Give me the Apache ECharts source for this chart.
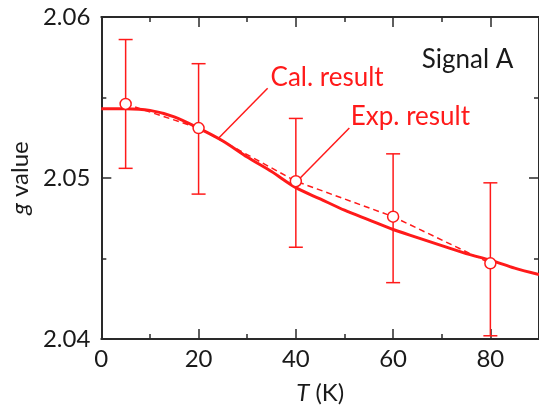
<!DOCTYPE html>
<html>
<head>
<meta charset="utf-8">
<script src="https://cdn.jsdelivr.net/npm/echarts@6/dist/echarts.min.js"></script>
<style>
html,body{margin:0;padding:0;background:#fff;}
#c{width:539px;height:411px;}
</style>
</head>
<body>
<div id="c"></div>
<script>
// Calculated curve (T in K, g value)
const calT = [0, 5, 10, 15, 20, 25, 30, 35, 40, 45, 50, 55, 60, 65, 70, 75, 80, 85, 90];
const calG = [2.0543, 2.0543, 2.0542, 2.0538, 2.0531, 2.0523, 2.0513, 2.0504, 2.0494, 2.0487, 2.0480, 2.0474, 2.0468, 2.0463, 2.0458, 2.0453, 2.0449, 2.0444, 2.0440];
// Experimental points with error bars
const expT = [5, 20, 40, 60, 80];
const expG = [2.0546, 2.0531, 2.0498, 2.0476, 2.0447];
const expLow = [2.0506, 2.0490, 2.0457, 2.0435, 2.0402];
const expHigh = [2.0586, 2.0571, 2.0537, 2.0515, 2.0497];
// Axis ticks
const xTicks = [0, 20, 40, 60, 80];
const yTicks = [2.04, 2.05, 2.06];

const RED = '#ff1a1a';
const FONT = 'Lato';
const AX = '#2a2a2a';

const chart = echarts.init(document.getElementById('c'), null, {renderer: 'canvas'});

const axisCommon = {
  axisLine: {show: true, onZero: false, lineStyle: {color: AX, width: 2}},
  axisTick: {show: true, inside: true, length: 10, lineStyle: {color: AX, width: 1.5}},
  minorTick: {show: true, splitNumber: 2, length: 5, lineStyle: {color: AX, width: 1.5}},
  splitLine: {show: false},
  minorSplitLine: {show: false}
};

const option = {
  animation: false,
  backgroundColor: '#ffffff',
  grid: {left: 97, top: 17, width: 446, height: 322, containLabel: false},
  xAxis: [
    Object.assign({
      type: 'value', min: 0, max: 90, interval: 20, position: 'bottom',
      name: '{i|T} (K)', nameLocation: 'middle', nameGap: 42,
      nameTextStyle: {fontFamily: FONT, fontSize: 24, color: '#1a1a1a',
        rich: {i: {fontFamily: FONT, fontSize: 24, fontStyle: 'italic', color: '#1a1a1a'}}},
      axisLabel: {show: true, margin: 8, fontFamily: FONT, fontSize: 24, color: '#1a1a1a',
        showMaxLabel: false,
        formatter: v => xTicks.includes(v) ? String(v) : ''}
    }, axisCommon),
    Object.assign({
      type: 'value', min: 0, max: 90, interval: 20, position: 'top',
      axisLabel: {show: false}
    }, axisCommon)
  ],
  yAxis: [
    Object.assign({
      type: 'value', min: 2.04, max: 2.06, interval: 0.01, position: 'left',
      name: '{i|g} value', nameLocation: 'middle', nameGap: 64, nameRotate: 90,
      nameTextStyle: {fontFamily: FONT, fontSize: 24, color: '#1a1a1a',
        rich: {i: {fontFamily: FONT, fontSize: 24, fontStyle: 'italic', color: '#1a1a1a'}}},
      axisLabel: {show: true, margin: 11, fontFamily: FONT, fontSize: 24, color: '#1a1a1a',
        formatter: v => {
          const s = v.toFixed(2);
          return yTicks.some(t => t.toFixed(2) === s) ? s : '';
        }}
    }, axisCommon),
    Object.assign({
      type: 'value', min: 2.04, max: 2.06, interval: 0.01, position: 'right',
      axisLabel: {show: false}
    }, axisCommon)
  ],
  series: [
    {
      type: 'custom',
      name: 'err',
      z: 2,
      silent: true,
      data: expT.map((t, i) => [t, expLow[i], expHigh[i]]),
      renderItem: function (params, api) {
        const x = api.value(0);
        const lo = api.coord([x, api.value(1)]);
        const hi = api.coord([x, api.value(2)]);
        const hw = 7;
        const st = {stroke: RED, lineWidth: 1.5, fill: null};
        return {
          type: 'group',
          children: [
            {type: 'line', shape: {x1: lo[0], y1: lo[1], x2: hi[0], y2: hi[1]}, style: st},
            {type: 'line', shape: {x1: lo[0] - hw, y1: lo[1], x2: lo[0] + hw, y2: lo[1]}, style: st},
            {type: 'line', shape: {x1: hi[0] - hw, y1: hi[1], x2: hi[0] + hw, y2: hi[1]}, style: st}
          ]
        };
      }
    },
    {
      type: 'line',
      name: 'cal',
      z: 3,
      data: calT.map((t, i) => [t, calG[i]]),
      smooth: 0.3,
      showSymbol: false,
      symbol: 'none',
      lineStyle: {color: RED, width: 3},
      markLine: {
        silent: true,
        symbol: ['none', 'none'],
        label: {show: false},
        lineStyle: {color: RED, width: 1.5, type: 'solid'},
        data: [
          [{coord: [24.1, 2.05247]}, {coord: [34.2, 2.05557]}],
          [{coord: [40.9, 2.0500]}, {coord: [51.0, 2.05311]}]
        ]
      },
      markPoint: {
        silent: true,
        symbol: 'circle',
        symbolSize: 0,
        itemStyle: {color: 'rgba(0,0,0,0)'},
        data: [
          {coord: [34.8, 2.05621], value: 'Cal. result',
            label: {show: true, position: [0, 0], align: 'left', verticalAlign: 'middle',
              formatter: 'Cal. result', fontFamily: FONT, fontSize: 26, color: RED}},
          {coord: [51.3, 2.05381], value: 'Exp. result',
            label: {show: true, position: [0, 0], align: 'left', verticalAlign: 'middle',
              formatter: 'Exp. result', fontFamily: FONT, fontSize: 26, color: RED}},
          {coord: [65.9, 2.05737], value: 'Signal A',
            label: {show: true, position: [0, 0], align: 'left', verticalAlign: 'middle',
              formatter: 'Signal A', fontFamily: FONT, fontSize: 26, color: '#1a1a1a'}}
        ]
      }
    },
    {
      type: 'line',
      name: 'exp',
      z: 4,
      data: expT.map((t, i) => [t, expG[i]]),
      symbol: 'circle',
      symbolSize: 11,
      showSymbol: true,
      lineStyle: {color: RED, width: 1.5, type: [6, 4]},
      itemStyle: {color: '#ffffff', borderColor: RED, borderWidth: 1.5}
    }
  ]
};
chart.setOption(option);
</script>
</body>
</html>
